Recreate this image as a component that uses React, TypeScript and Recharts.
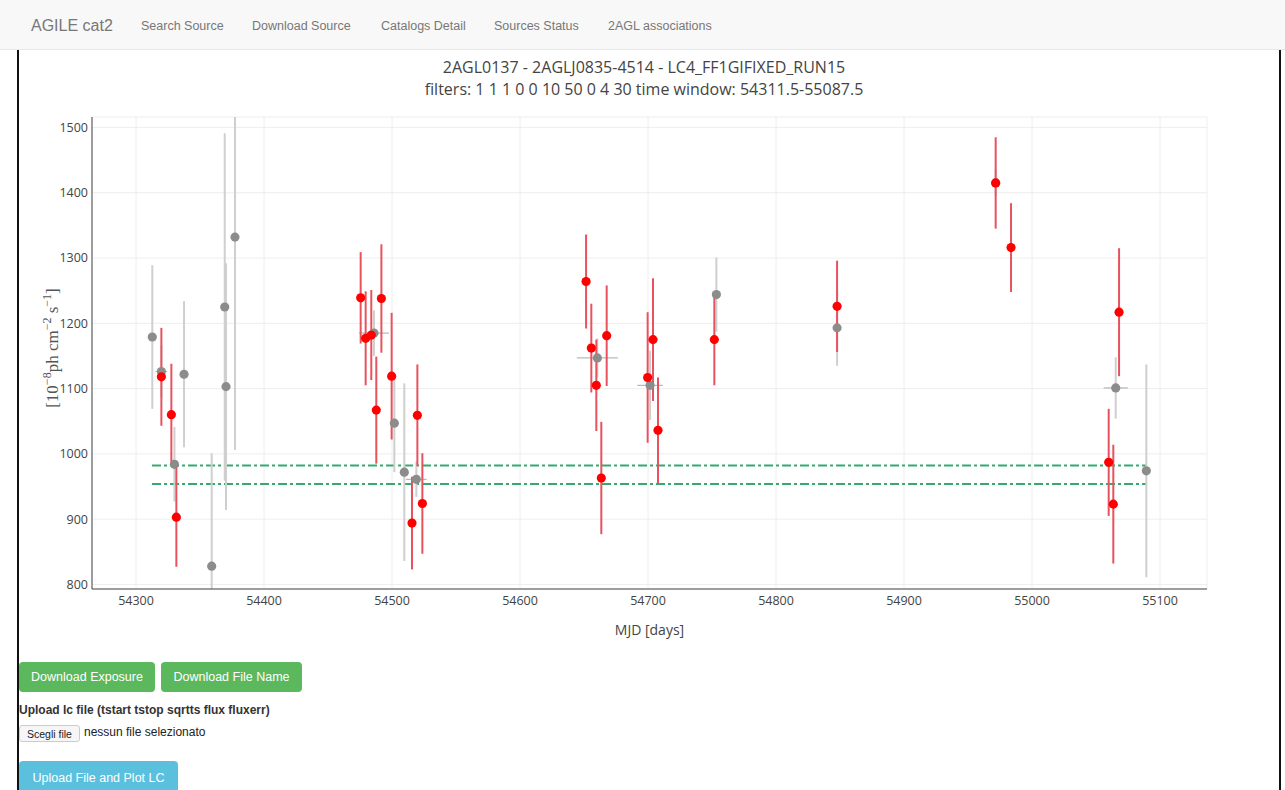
import React from 'react';
import { ComposedChart, Scatter, Line, XAxis, YAxis, ZAxis, CartesianGrid, ErrorBar } from 'recharts';

// Red series (significant detections): MJD, flux, flux error
const redMjd = [54319.8, 54327.6, 54331.5, 54475.5, 54479.4, 54483.8, 54487.7, 54491.7, 54499.7, 54515.6, 54519.8, 54523.7, 54651.6, 54655.7, 54659.6, 54663.5, 54667.7, 54699.7, 54703.9, 54707.8, 54751.8, 54847.7, 54971.6, 54983.6, 55059.9, 55063.5, 55068.0];
const redFlux = [1118, 1060, 903, 1239, 1177, 1182, 1067, 1238, 1119, 894, 1059, 924, 1264, 1162, 1105, 963, 1181, 1117, 1175, 1036, 1175, 1226, 1415, 1316, 987, 923, 1217];
const redErr = [75, 78, 76, 70, 72, 69, 82, 83, 97, 71, 78, 77, 72, 68, 70, 86, 77, 100, 94, 81, 70, 70, 70, 68, 82, 91, 98];

// Gray series: MJD, flux, flux error, half bin width
const grayMjd = [54312.7, 54319.8, 54330.0, 54337.5, 54359.1, 54369.3, 54370.3, 54377.3, 54485.9, 54501.8, 54509.6, 54519.0, 54660.4, 54701.6, 54753.4, 54847.7, 54971.6, 55065.4, 55089.3];
const grayFlux = [1179, 1126, 984, 1122, 828, 1225, 1103, 1332, 1185, 1047, 972, 961, 1147, 1105, 1244, 1193, 1415, 1101, 974];
const grayErr = [110, 40, 57, 112, 173, 266, 189, 326, 35, 75, 136, 27, 30, 53, 57, 58, 20, 47, 163];
const grayBin = [0, 4.5, 0, 0, 0, 0, 0, 0, 11.7, 0, 0, 8, 16, 10, 0, 0, 3, 9.4, 0];

// Threshold levels (dash-dot lines) and their span
const levels = [982, 954];
const levelSpan = [54312.5, 55089.3];

const xTicks = [54300, 54400, 54500, 54600, 54700, 54800, 54900, 55000, 55100];
const yTicks = [800, 900, 1000, 1100, 1200, 1300, 1400, 1500];
const xDomain = [54265.6, 55136.7];
const yDomain = [793, 1516];

const titleLine1 = '2AGL0137 - 2AGLJ0835-4514 - LC4_FF1GIFIXED_RUN15';
const titleLine2 = 'filters: 1 1 1 0 0 10 50 0 4 30 time window: 54311.5-55087.5';
const navBrand = 'AGILE cat2';
const navLinks = ['Search Source', 'Download Source', 'Catalogs Detail', 'Sources Status', '2AGL associations'];

const redData = redMjd.map((m, i) => ({ mjd: m, flux: redFlux[i], err: redErr[i] }));
const grayData = grayMjd.map((m, i) => ({ mjd: m, flux: grayFlux[i], err: grayErr[i], bin: grayBin[i] }));
const levelData = levels.map((lv) => levelSpan.map((m) => ({ mjd: m, level: lv })));

const PLOT_FONT = '"Open Sans", "DejaVu Sans", sans-serif';
const UI_FONT = '"Liberation Sans", Arial, Helvetica, sans-serif';

// plot area (chart margins + axis sizes)
const CHART_W = 1285;
const CHART_H = 650;
const MARGIN = { top: 117, right: 78, left: 32, bottom: 11 };
const Y_AXIS_W = 60;
const X_AXIS_H = 50;
const PLOT = {
  x: MARGIN.left + Y_AXIS_W,
  y: MARGIN.top,
  w: CHART_W - MARGIN.left - Y_AXIS_W - MARGIN.right,
  h: CHART_H - MARGIN.top - MARGIN.bottom - X_AXIS_H,
};

const YLabel = () => (
  <text
    x={58}
    y={348}
    transform="rotate(-90 58 348)"
    textAnchor="middle"
    fill="#555"
    style={{ fontFamily: '"Liberation Serif", "DejaVu Serif", serif', fontSize: 17 }}
  >
    [10
    <tspan dy={-7} fontSize={12}>−8</tspan>
    <tspan dy={7}>ph cm</tspan>
    <tspan dy={-7} fontSize={12}>−2</tspan>
    <tspan dy={7}> s</tspan>
    <tspan dy={-7} fontSize={12}>−1</tspan>
    <tspan dy={7}>]</tspan>
  </text>
);

const navPos = [141, 252, 381, 494, 608];

const btn = (bg: string): React.CSSProperties => ({
  position: 'absolute',
  background: bg,
  color: '#fff',
  fontFamily: UI_FONT,
  fontSize: 12.5,
  borderRadius: 4,
  display: 'flex',
  alignItems: 'center',
  justifyContent: 'center',
  boxSizing: 'border-box',
});

export default function App() {
  return (
    <div style={{ position: 'absolute', left: 0, top: 0, width: 1285, height: 790, overflow: 'hidden', background: '#fff' }}>
      <style>{`.recharts-errorBars, .recharts-errorBar { clip-path: url(#lcPlotClip); }`}</style>
      <svg width={0} height={0} style={{ position: 'absolute' }}>
        <defs>
          <clipPath id="lcPlotClip" clipPathUnits="userSpaceOnUse">
            <rect x={PLOT.x} y={PLOT.y} width={PLOT.w} height={PLOT.h} />
          </clipPath>
        </defs>
      </svg>
      {/* navbar */}
      <div style={{ position: 'absolute', left: 0, top: 0, width: 1285, height: 49, background: '#f8f8f8', borderBottom: '1px solid #e7e7e7' }} />
      <div style={{ position: 'absolute', left: 31, top: 17, fontFamily: UI_FONT, fontSize: 16, color: '#777', whiteSpace: 'nowrap' }}>{navBrand}</div>
      {navLinks.map((t, i) => (
        <div key={t} style={{ position: 'absolute', left: navPos[i], top: 19, fontFamily: UI_FONT, fontSize: 12.5, color: '#777', whiteSpace: 'nowrap' }}>{t}</div>
      ))}
      {/* page frame lines */}
      <div style={{ position: 'absolute', left: 17, top: 50, width: 2, height: 740, background: '#111' }} />
      <div style={{ position: 'absolute', left: 1279, top: 50, width: 2, height: 740, background: '#111' }} />

      {/* title */}
      <div style={{ position: 'absolute', left: 0, width: 1288, top: 56, textAlign: 'center', fontFamily: PLOT_FONT, fontSize: 16, lineHeight: '22px', color: '#444' }}>
        <div>{titleLine1}</div>
        <div>{titleLine2}</div>
      </div>

      <div style={{ position: 'absolute', left: 0, top: 0 }}>
        <ComposedChart width={CHART_W} height={CHART_H} margin={MARGIN}>
          <CartesianGrid stroke="#eee" strokeWidth={1} />
          <XAxis
            type="number"
            dataKey="mjd"
            domain={xDomain}
            ticks={xTicks}
            allowDataOverflow
            height={X_AXIS_H}
            tickLine={false}
            tickSize={0}
            tickMargin={7}
            axisLine={{ stroke: '#444', strokeWidth: 1 }}
            tick={{ fill: '#444', fontSize: 12.5, fontFamily: PLOT_FONT }}
            label={{ value: 'MJD [days]', position: 'insideBottom', offset: 4, fill: '#444', fontSize: 14, fontFamily: PLOT_FONT }}
          />
          <YAxis
            type="number"
            domain={yDomain}
            ticks={yTicks}
            allowDataOverflow
            width={Y_AXIS_W}
            tickLine={false}
            tickSize={0}
            tickMargin={4}
            axisLine={{ stroke: '#444', strokeWidth: 1 }}
            tick={{ fill: '#444', fontSize: 12.5, fontFamily: PLOT_FONT }}
            label={{ content: () => <YLabel /> }}
          />
          <ZAxis range={[66, 66]} />
          {levelData.map((d, i) => (
            <Line
              key={'lv' + i}
              data={d}
              dataKey="level"
              stroke="#36a971"
              strokeWidth={2}
              strokeDasharray="9 3 3 3"
              dot={false}
              activeDot={false}
              isAnimationActive={false}
            />
          ))}
          <Scatter data={grayData} dataKey="flux" fill="#8c8c8c" isAnimationActive={false}>
            <ErrorBar dataKey="err" direction="y" width={0} stroke="#cfcfcf" strokeWidth={2} />
            <ErrorBar dataKey="bin" direction="x" width={0} stroke="#a8a8a8" strokeWidth={1} />
          </Scatter>
          <Scatter data={redData} dataKey="flux" fill="#ff0000" isAnimationActive={false}>
            <ErrorBar dataKey="err" direction="y" width={0} stroke="#e8525e" strokeWidth={2} />
          </Scatter>
        </ComposedChart>
      </div>

      {/* controls below chart */}
      <div style={{ ...btn('#5cb85c'), left: 19, top: 662, width: 136, height: 30 }}>Download Exposure</div>
      <div style={{ ...btn('#5cb85c'), left: 161, top: 662, width: 141, height: 30 }}>Download File Name</div>
      <div style={{ position: 'absolute', left: 19, top: 703, fontFamily: UI_FONT, fontSize: 12, fontWeight: 'bold', color: '#333', whiteSpace: 'nowrap' }}>
        Upload lc file (tstart tstop sqrtts flux fluxerr)
      </div>
      <div style={{ position: 'absolute', left: 19, top: 725, width: 61, height: 17, border: '1px solid #ccc', borderRadius: 3, background: '#f6f6f6', boxSizing: 'border-box', fontFamily: UI_FONT, fontSize: 10.5, color: '#222', display: 'flex', alignItems: 'center', justifyContent: 'center' }}>
        Scegli file
      </div>
      <div style={{ position: 'absolute', left: 84, top: 725, fontFamily: UI_FONT, fontSize: 12, color: '#222', whiteSpace: 'nowrap' }}>nessun file selezionato</div>
      <div style={{ ...btn('#5bc0de'), left: 19, top: 761, width: 159, height: 34 }}>Upload File and Plot LC</div>
    </div>
  );
}
